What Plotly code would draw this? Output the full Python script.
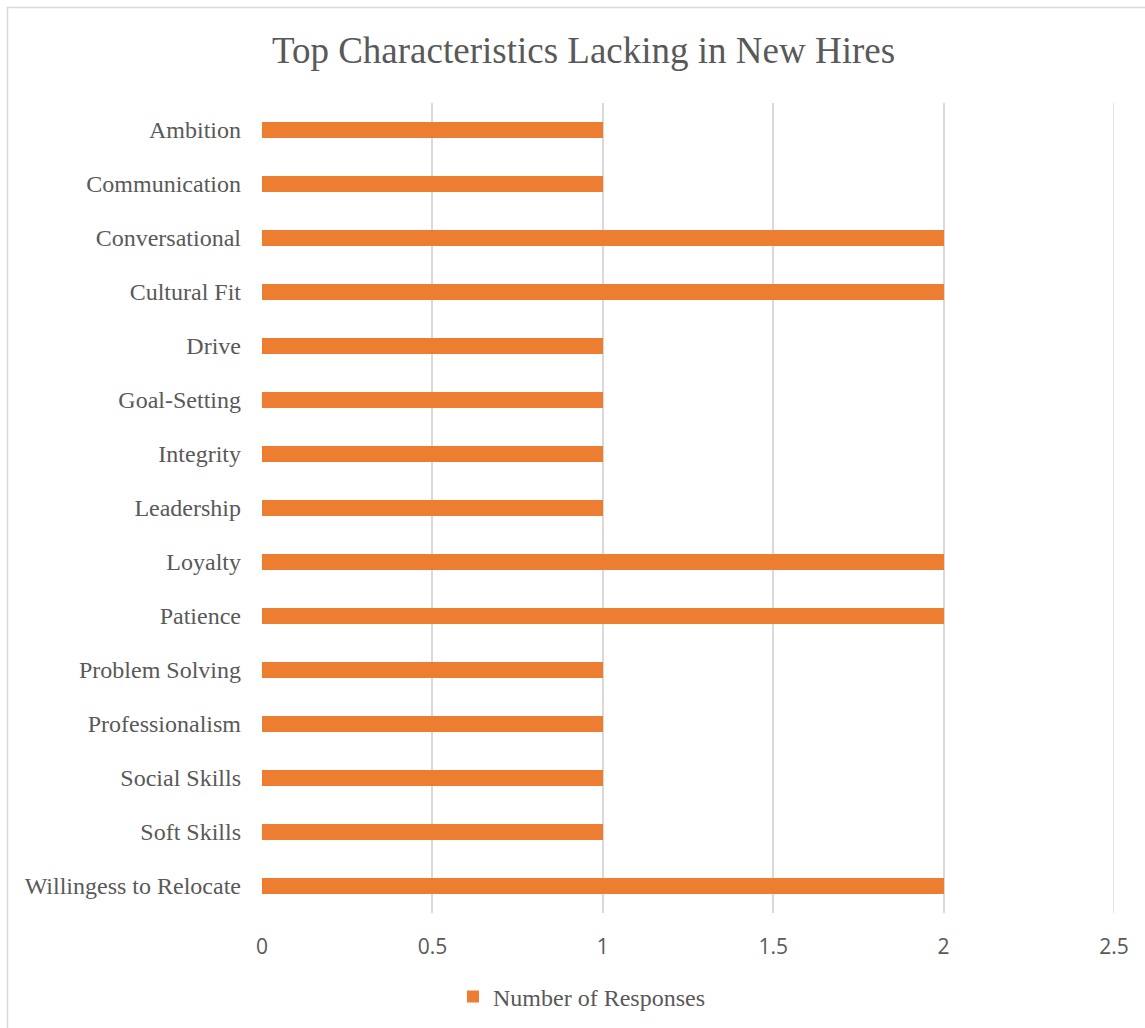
import plotly.graph_objects as go

categories = ["Ambition", "Communication", "Conversational", "Cultural Fit", "Drive",
              "Goal-Setting", "Integrity", "Leadership", "Loyalty", "Patience",
              "Problem Solving", "Professionalism", "Social Skills", "Soft Skills",
              "Willingess to Relocate"]
responses = [1, 1, 2, 2, 1, 1, 1, 1, 2, 2, 1, 1, 1, 1, 2]
x_ticks = [0, 0.5, 1, 1.5, 2, 2.5]
x_tick_labels = ["0", "0.5", "1", "1.5", "2", "2.5"]

W, H = 1145, 1028
L, R, T, B = 262, 31, 103, 115
pw, ph = W - L - R, H - T - B

def px(x):
    return (x - L) / pw

def py(y):
    return (H - B - y) / ph

fig = go.Figure()
fig.add_trace(go.Bar(
    x=responses, y=categories, orientation="h",
    marker=dict(color="#ED7D31", line=dict(width=0)),
    width=0.31, name="Number of Responses", showlegend=True,
))

grid_edge = dict(type="line", xref="x", yref="paper",
                 x0=x_ticks[-1], x1=x_ticks[-1], y0=0, y1=1,
                 line=dict(color="#D9D9D9", width=1.5), layer="below")

fig.update_layout(
    width=W, height=H,
    margin=dict(l=L, r=R, t=T, b=B, autoexpand=False),
    paper_bgcolor="white", plot_bgcolor="white",
    title=dict(text="Top Characteristics Lacking in New Hires",
               x=(270 + 897) / 2 / W, xanchor="center", xref="container",
               y=1 - 50 / H, yanchor="middle", yref="container",
               font=dict(family="Liberation Serif", size=37, color="#595959")),
    xaxis=dict(range=[0, 2.5], tickvals=x_ticks, ticktext=x_tick_labels,
               showgrid=True, gridcolor="#D9D9D9", gridwidth=1.5,
               zeroline=False, showline=False, ticks="",
               ticklabelstandoff=19,
               tickfont=dict(family="Open Sans", size=21, color="#595959")),
    yaxis=dict(autorange="reversed", showgrid=False, zeroline=False,
               showline=False, ticks="", ticklabelstandoff=20,
               tickfont=dict(family="Liberation Serif", size=24, color="#595959")),
    showlegend=True,
    legend=dict(orientation="h", x=px(453), xanchor="left",
                y=py(997), yanchor="middle",
                font=dict(family="Liberation Serif", size=24, color="#595959"),
                bgcolor="rgba(0,0,0,0)"),
    bargap=0,
    shapes=[dict(type="rect", xref="paper", yref="paper",
                 x0=px(7.5), x1=px(1160), y0=py(1040), y1=py(7.5),
                 line=dict(color="#D9D9D9", width=1.5), fillcolor="rgba(0,0,0,0)",
                 layer="below"),
            grid_edge],
)

fig.write_html("out.html")
